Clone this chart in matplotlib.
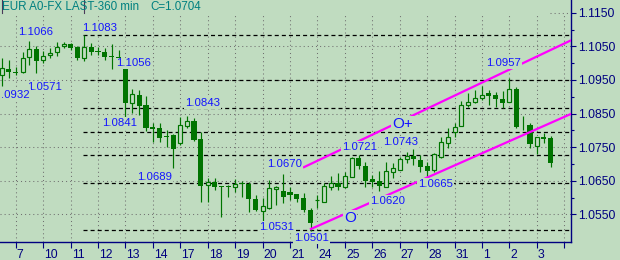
"""
EUR 360-min candlestick chart with fib levels and a rising channel, old charting-package look.
"""

import matplotlib

matplotlib.use("Agg")
import matplotlib.pyplot as plt
import matplotlib.transforms as mtransforms
from matplotlib.lines import Line2D

BG = "#c0dcc0"
NAVY = "#000080"
GREEN = "#007400"
LABEL_BLUE = "#1414ff"
MAGENTA = "#ff00ff"
TEAL = "#008080"

# 4 candles per day, index 0 = first bar on screen
opens = [1.0965, 1.0982, 1.0974, 1.0973, 1.1019, 1.1042, 1.1009, 1.1024, 1.1034, 1.1050,
         1.1056, 1.1049, 1.1014, 1.1047, 1.1037, 1.1032, 1.1022, 1.1017, 1.1001, 1.0880,
         1.0905, 1.0875, 1.0809, 1.0808, 1.0783, 1.0786, 1.0761, 1.0813, 1.0829, 1.0774,
         1.0637, 1.0647, 1.0634, 1.0634, 1.0630, 1.0642, 1.0640, 1.0595, 1.0560, 1.0568,
         1.0624, 1.0620, 1.0617, 1.0609, 1.0599, 1.0563, 1.0592, 1.0588, 1.0632, 1.0642,
         1.0630, 1.0662, 1.0717, 1.0694, 1.0654, 1.0649, 1.0632, 1.0677, 1.0682, 1.0714,
         1.0724, 1.0712, 1.0694, 1.0682, 1.0721, 1.0763, 1.0796, 1.0814, 1.0875, 1.0885,
         1.0895, 1.0910, 1.0904, 1.0893, 1.0885, 1.0924, 1.0817, 1.0816, 1.0753, 1.0781,
         1.0776]
highs = [1.1014, 1.1009, 1.0989, 1.1034, 1.1066, 1.1052, 1.1036, 1.1044, 1.1064, 1.1062,
         1.1059, 1.1052, 1.1083, 1.1059, 1.1049, 1.1044, 1.1056, 1.1039, 1.1014, 1.0923,
         1.0920, 1.0902, 1.0821, 1.0821, 1.0801, 1.0788, 1.0840, 1.0843, 1.0838, 1.0796,
         1.0657, 1.0657, 1.0635, 1.0637, 1.0654, 1.0650, 1.0647, 1.0607, 1.0598, 1.0652,
         1.0634, 1.0670, 1.0630, 1.0610, 1.0613, 1.0568, 1.0607, 1.0642, 1.0664, 1.0672,
         1.0677, 1.0721, 1.0726, 1.0707, 1.0667, 1.0679, 1.0707, 1.0702, 1.0721, 1.0735,
         1.0743, 1.0726, 1.0707, 1.0732, 1.0779, 1.0806, 1.0821, 1.0888, 1.0910, 1.0920,
         1.0932, 1.0921, 1.0915, 1.0917, 1.0957, 1.0930, 1.0843, 1.0823, 1.0780, 1.0793,
         1.0783]
lows = [1.0932, 1.0955, 1.0965, 1.0972, 1.0994, 1.0971, 1.0999, 1.1014, 1.1022, 1.1044,
        1.1039, 1.1009, 1.1006, 1.1024, 1.1024, 1.1009, 1.0982, 1.0994, 1.0841, 1.0851,
        1.0846, 1.0798, 1.0764, 1.0766, 1.0751, 1.0689, 1.0756, 1.0806, 1.0768, 1.0588,
        1.0588, 1.0622, 1.0541, 1.0602, 1.0617, 1.0602, 1.0558, 1.0560, 1.0531, 1.0566,
        1.0578, 1.0583, 1.0593, 1.0588, 1.0558, 1.0501, 1.0568, 1.0587, 1.0622, 1.0622,
        1.0628, 1.0660, 1.0684, 1.0630, 1.0632, 1.0620, 1.0631, 1.0657, 1.0681, 1.0702,
        1.0697, 1.0677, 1.0665, 1.0677, 1.0717, 1.0746, 1.0779, 1.0813, 1.0870, 1.0880,
        1.0889, 1.0875, 1.0870, 1.0865, 1.0884, 1.0808, 1.0801, 1.0746, 1.0730, 1.0763,
        1.0692]
closes = [1.0985, 1.0973, 1.0972, 1.1014, 1.1042, 1.1006, 1.1022, 1.1029, 1.1047, 1.1056,
          1.1046, 1.1014, 1.1049, 1.1034, 1.1033, 1.1019, 1.1017, 1.0999, 1.0880, 1.0907,
          1.0873, 1.0806, 1.0804, 1.0776, 1.0779, 1.0743, 1.0816, 1.0829, 1.0771, 1.0635,
          1.0645, 1.0630, 1.0632, 1.0630, 1.0640, 1.0639, 1.0596, 1.0563, 1.0575, 1.0627,
          1.0630, 1.0601, 1.0607, 1.0595, 1.0563, 1.0523, 1.0593, 1.0634, 1.0642, 1.0630,
          1.0664, 1.0717, 1.0695, 1.0650, 1.0646, 1.0634, 1.0679, 1.0687, 1.0715, 1.0723,
          1.0715, 1.0692, 1.0680, 1.0729, 1.0766, 1.0779, 1.0811, 1.0875, 1.0883, 1.0895,
          1.0905, 1.0901, 1.0892, 1.0882, 1.0922, 1.0811, 1.0815, 1.0758, 1.0779, 1.0775,
          1.0704]

day_labels = ["7", "10", "11", "12", "13", "14", "17", "18", "19", "20", "21",
              "24", "25", "26", "27", "28", "31", "1", "2", "3", ""]
first_day_bar = 2
bars_per_day = 4

price_ticks = [1.0550, 1.0650, 1.0750, 1.0850, 1.0950, 1.1050, 1.1150]
price_minor = [1.0600, 1.0700, 1.0800, 1.0900, 1.1000, 1.1100]

# fibonacci levels between the 1.0501 low and the 1.1083 high
fib_levels = [1.1085, 1.0950, 1.0866, 1.0796, 1.0727, 1.0642, 1.0502]
fib_start = 11.8

# channel lines (bar index, price)
upper_x = [43.9, 83.0]
upper_y = [1.0689, 1.1068]
lower_x = [44.9, 83.0]
lower_y = [1.0505, 1.0849]

# swing labels: text, bar index, price of the text centre
swing_labels = [
    ("1.1066", 4.9, 1.1095), ("1.1083", 14.2, 1.1106), ("1.1056", 19.15, 1.1002),
    ("1.0571", 6.15, 1.0933), (".0932", 1.95, 1.0909), ("1.0841", 17.2, 1.0824),
    ("1.0843", 29.25, 1.0884), ("1.0689", 22.2, 1.0665), ("1.0670", 41.2, 1.0702),
    ("1.0721", 52.1, 1.0754), ("1.0743", 58.15, 1.0769), ("1.0620", 56.2, 1.0593),
    ("1.0665", 63.25, 1.0642), ("1.0501", 45.15, 1.0481), ("1.0531", 40.05, 1.0515),
    ("1.0957", 73.15, 1.1004),
]
markers = [("O+", 58.4, 1.0823), ("O", 50.8, 1.0543)]

XLIM = (-0.29, 82.98)
YLIM = (1.04676, 1.11878)


def draw_candles(ax):
    xs = range(len(opens))
    ax.vlines(xs, lows, highs, color=GREEN, lw=0.85, zorder=3)
    for i, (o, c) in enumerate(zip(opens, closes)):
        h = max(abs(c - o), 0.00004)
        b = min(o, c)
        if c >= o:
            ax.bar(i, h, bottom=b, width=0.6, facecolor=BG, edgecolor=GREEN,
                   linewidth=0.85, zorder=4)
        else:
            ax.bar(i, h, bottom=b, width=0.74, color=GREEN, linewidth=0, zorder=4)


def main() -> None:
    plt.rcParams["font.family"] = ["Liberation Sans", "DejaVu Sans"]
    plt.rcParams["lines.scale_dashes"] = False

    fig = plt.figure(figsize=(6.2, 2.6), dpi=100, facecolor=BG)
    ax = fig.add_axes([0, 18 / 260, 571 / 620, 242 / 260])
    ax.set_facecolor(BG)
    ax.set_xlim(*XLIM)
    ax.set_ylim(*YLIM)

    dotted = (0, (0.75, 2.2))
    tick_x = [first_day_bar + bars_per_day * k for k in range(len(day_labels))]
    ax.vlines(tick_x, YLIM[0], 1.1143, colors="#707070", lw=0.75, linestyles=[dotted], zorder=1)
    ax.hlines(price_ticks[:-1], XLIM[0], XLIM[1], colors="#707070", lw=0.75,
              linestyles=[dotted], zorder=1)
    ax.hlines(price_ticks[-1], 79.9, XLIM[1], colors="#707070", lw=0.75,
              linestyles=[dotted], zorder=1)

    ax.hlines(fib_levels, fib_start, XLIM[1], colors="black", lw=0.9,
              linestyles=[(0, (2.9, 2.2))], zorder=2)

    draw_candles(ax)

    ax.plot(upper_x, upper_y, color=MAGENTA, lw=1.6, zorder=5, solid_capstyle="butt")
    ax.plot(lower_x, lower_y, color=MAGENTA, lw=1.6, zorder=5, solid_capstyle="butt")

    box = dict(boxstyle="square,pad=0.08", fc=BG, ec="none")
    for txt, x, y in swing_labels:
        ax.text(x, y, txt, color=LABEL_BLUE, fontsize=8.2, ha="center",
                va="center_baseline", bbox=box, zorder=6, clip_on=False)
    for txt, x, y in markers:
        ax.text(x, y, txt, color=LABEL_BLUE, fontsize=11, ha="center",
                va="center_baseline", bbox=box, zorder=6)

    # axes frame
    for side in ("top", "left"):
        ax.spines[side].set_visible(False)
    for side in ("right", "bottom"):
        ax.spines[side].set_color(NAVY)
        ax.spines[side].set_linewidth(1.0)

    ax.yaxis.tick_right()
    ax.set_yticks(price_ticks)
    ax.set_yticklabels([f"{p:.4f}" for p in price_ticks])
    ax.set_yticks(price_minor, minor=True)
    ax.tick_params(axis="y", which="major", length=3.6, width=0.8, color=NAVY, pad=1.5,
                   labelsize=8.8, labelcolor=NAVY)
    ax.tick_params(axis="y", which="minor", length=1.8, width=0.8, color=NAVY)

    ax.set_xticks(tick_x)
    ax.set_xticklabels(day_labels)
    ax.tick_params(axis="x", length=4.3, width=0.8, color=NAVY, pad=0.5,
                   labelsize=8.8, labelcolor=NAVY)
    shift = mtransforms.ScaledTranslation(1.2 / 100, 0, fig.dpi_scale_trans)
    for lbl in ax.get_xticklabels():
        lbl.set_horizontalalignment("left")
        lbl.set_transform(lbl.get_transform() + shift)

    # header strip
    fig.text(2 / 620, 1 - 6.5 / 260, "EUR A0-FX LAST-360 min", color=TEAL, fontsize=8.4,
             va="center", ha="left")
    fig.text(150 / 620, 1 - 6.5 / 260, "C=1.0704", color=TEAL, fontsize=8.4,
             va="center", ha="left")
    for px in (1.5, 83.5):
        fig.add_artist(Line2D([px / 620, px / 620], [1, 1 - 13 / 260], color="#4a3a5a", lw=0.8))

    fig.savefig("out.png", dpi=100, facecolor=BG)
    plt.close(fig)


if __name__ == "__main__":
    main()
